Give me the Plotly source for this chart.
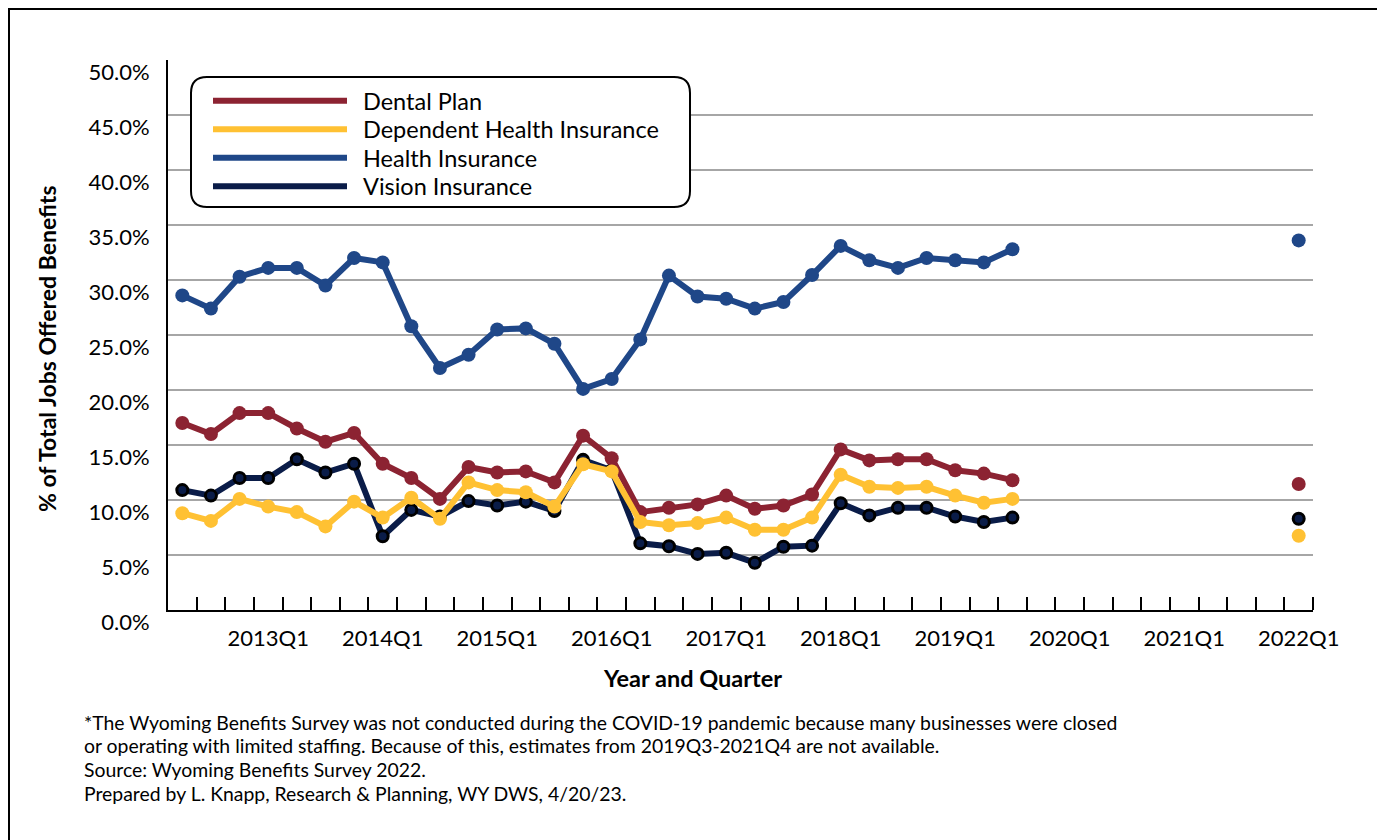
import plotly.graph_objects as go

# ---------------- data ----------------
quarters = ["2012Q2", "2012Q3", "2012Q4"]
for yr in range(2013, 2022):
    quarters += [f"{yr}Q{q}" for q in range(1, 5)]
quarters += ["2022Q1"]

gap = [None] * 9

dental = [17.0, 16.0, 17.9, 17.9, 16.5, 15.3, 16.1, 13.3, 12.0, 10.1,
          13.0, 12.5, 12.6, 11.6, 15.85, 13.8, 8.9, 9.3, 9.6, 10.4,
          9.2, 9.5, 10.5, 14.6, 13.6, 13.7, 13.7, 12.7, 12.4, 11.8] + gap + [11.45]

dependent = [8.8, 8.1, 10.1, 9.4, 8.9, 7.6, 9.85, 8.4, 10.2, 8.3,
             11.6, 10.9, 10.7, 9.4, 13.25, 12.6, 8.0, 7.7, 7.9, 8.4,
             7.3, 7.3, 8.4, 12.3, 11.2, 11.1, 11.2, 10.4, 9.75, 10.1] + gap + [6.75]

health = [28.6, 27.4, 30.3, 31.1, 31.1, 29.5, 32.0, 31.6, 25.8, 22.0,
          23.2, 25.5, 25.6, 24.2, 20.1, 21.0, 24.6, 30.4, 28.5, 28.3,
          27.4, 28.0, 30.45, 33.1, 31.8, 31.1, 32.0, 31.8, 31.6, 32.8] + gap + [33.6]

vision = [10.9, 10.4, 12.0, 12.0, 13.7, 12.5, 13.3, 6.7, 9.1, 8.5,
          9.9, 9.5, 9.85, 9.0, 13.65, 12.7, 6.06, 5.8, 5.1, 5.2,
          4.3, 5.75, 5.85, 9.7, 8.6, 9.3, 9.3, 8.5, 8.0, 8.4] + gap + [8.3]

series_names = ["Dental Plan", "Dependent Health Insurance", "Health Insurance", "Vision Insurance"]
tick_text = [q if q.endswith("Q1") else "" for q in quarters]

footnotes = [
    "*The Wyoming Benefits Survey was not conducted during the COVID-19 pandemic because many businesses were closed",
    "or operating with limited staffing. Because of this, estimates from 2019Q3-2021Q4 are not available.",
    "Source: Wyoming Benefits Survey 2022.",
    "Prepared by L. Knapp, Research & Planning, WY DWS, 4/20/23.",
]

# ---------------- style ----------------
C_DENTAL = "#8C2332"
C_DEP = "#FFC133"
C_HEALTH = "#1F4788"
C_VISION = "#0A1C48"
FONT = "Lato"

OFF = 8                      # page body margin in the browser
W, H = 1385 - OFF, 840 - OFF
L, R, T, B = 168, 1313, 60, 610   # plot area in screen pixels


def px(x):
    return (x - L) / (R - L)


def py(y):
    return (B - y) / (B - T)


fig = go.Figure()

# drawing order: vision at the back, dependent on top
fig.add_trace(go.Scatter(
    x=quarters, y=vision, name=series_names[3], mode="lines+markers",
    line=dict(color=C_VISION, width=6),
    marker=dict(size=11, color=C_VISION, line=dict(color="black", width=3)),
    showlegend=False, connectgaps=False))
fig.add_trace(go.Scatter(
    x=quarters, y=health, name=series_names[2], mode="lines+markers",
    line=dict(color=C_HEALTH, width=6),
    marker=dict(size=14, color=C_HEALTH),
    showlegend=False, connectgaps=False))
fig.add_trace(go.Scatter(
    x=quarters, y=dental, name=series_names[0], mode="lines+markers",
    line=dict(color=C_DENTAL, width=6),
    marker=dict(size=14, color=C_DENTAL),
    showlegend=False, connectgaps=False))
fig.add_trace(go.Scatter(
    x=quarters, y=dependent, name=series_names[1], mode="lines+markers",
    line=dict(color=C_DEP, width=6),
    marker=dict(size=14, color=C_DEP),
    showlegend=False, connectgaps=False))

shapes = []
annotations = []

# outer frame
shapes.append(dict(type="rect", xref="paper", yref="paper",
                   x0=px(9), x1=px(1382), y0=py(880), y1=py(9),
                   line=dict(color="black", width=2), fillcolor="rgba(0,0,0,0)", layer="below"))

# closing tick mark at the right end of the category axis
shapes.append(dict(type="line", xref="paper", yref="paper",
                   x0=1, x1=1, y0=0, y1=py(597),
                   line=dict(color="black", width=2), layer="above"))

# custom legend box with rounded corners
bx0, bx1, by0, by1, r = 191, 690, 77, 207, 16


def P(x, y):
    return f"{px(x):.5f},{py(y):.5f}"


path = (f"M {P(bx0 + r, by0)} L {P(bx1 - r, by0)} Q {P(bx1, by0)} {P(bx1, by0 + r)} "
        f"L {P(bx1, by1 - r)} Q {P(bx1, by1)} {P(bx1 - r, by1)} "
        f"L {P(bx0 + r, by1)} Q {P(bx0, by1)} {P(bx0, by1 - r)} "
        f"L {P(bx0, by0 + r)} Q {P(bx0, by0)} {P(bx0 + r, by0)} Z")
shapes.append(dict(type="path", xref="paper", yref="paper", path=path,
                   line=dict(color="black", width=2), fillcolor="white", layer="above"))

leg_colors = [C_DENTAL, C_DEP, C_HEALTH, C_VISION]
leg_y = [100.7, 129.2, 157.7, 186.2]
for name, col, yy in zip(series_names, leg_colors, leg_y):
    shapes.append(dict(type="line", xref="paper", yref="paper",
                       x0=px(213), x1=px(347), y0=py(yy), y1=py(yy),
                       line=dict(color=col, width=6), layer="above"))
    annotations.append(dict(text=name, xref="paper", yref="paper",
                            x=px(361), y=py(yy), xanchor="left", yanchor="middle",
                            showarrow=False, font=dict(family=FONT, size=23.5, color="black")))

# axis titles
annotations.append(dict(text="<b>% of Total Jobs Offered Benefits</b>", xref="paper", yref="paper",
                        x=px(47), y=py(349), xanchor="center", yanchor="middle", textangle=-90,
                        showarrow=False, font=dict(family=FONT, size=23, color="black")))
annotations.append(dict(text="<b>Year and Quarter</b>", xref="paper", yref="paper",
                        x=px(692), y=py(678), xanchor="center", yanchor="middle",
                        showarrow=False, font=dict(family=FONT, size=23.5, color="black")))

# footnotes
for i, line in enumerate(footnotes):
    annotations.append(dict(text=line, xref="paper", yref="paper",
                            x=px(82), y=py(722 + i * 23.7), xanchor="left", yanchor="middle",
                            showarrow=False, font=dict(family=FONT, size=19.4, color="black")))

fig.update_layout(
    width=W, height=H, autosize=False,
    margin=dict(l=L - OFF, r=W - (R - OFF), t=T - OFF, b=H - (B - OFF), pad=0),
    paper_bgcolor="white", plot_bgcolor="white",
    font=dict(family=FONT, size=22, color="black"),
    shapes=shapes, annotations=annotations,
    showlegend=False,
)

fig.update_xaxes(
    type="category", categoryorder="array", categoryarray=quarters,
    range=[-0.5, len(quarters) - 0.5],
    tickmode="array", tickvals=quarters, ticktext=tick_text, tickangle=0,
    tickson="boundaries", ticks="inside", ticklen=13, tickwidth=2, tickcolor="black",
    showline=True, linecolor="black", linewidth=2,
    showgrid=False, zeroline=False,
    tickfont=dict(family=FONT, size=22, color="black"),
    ticklabelstandoff=8,
)
fig.update_yaxes(
    range=[0, 50], dtick=5, tick0=0, tickformat=".1f", ticksuffix="%",
    showline=True, linecolor="black", linewidth=2,
    showgrid=True, gridcolor="#A6A6A6", gridwidth=1.5,
    zeroline=False, ticks="",
    tickfont=dict(family=FONT, size=22, color="black"),
    ticklabelstandoff=12, ticklabelshift=12,
)

fig.write_html("out.html")
